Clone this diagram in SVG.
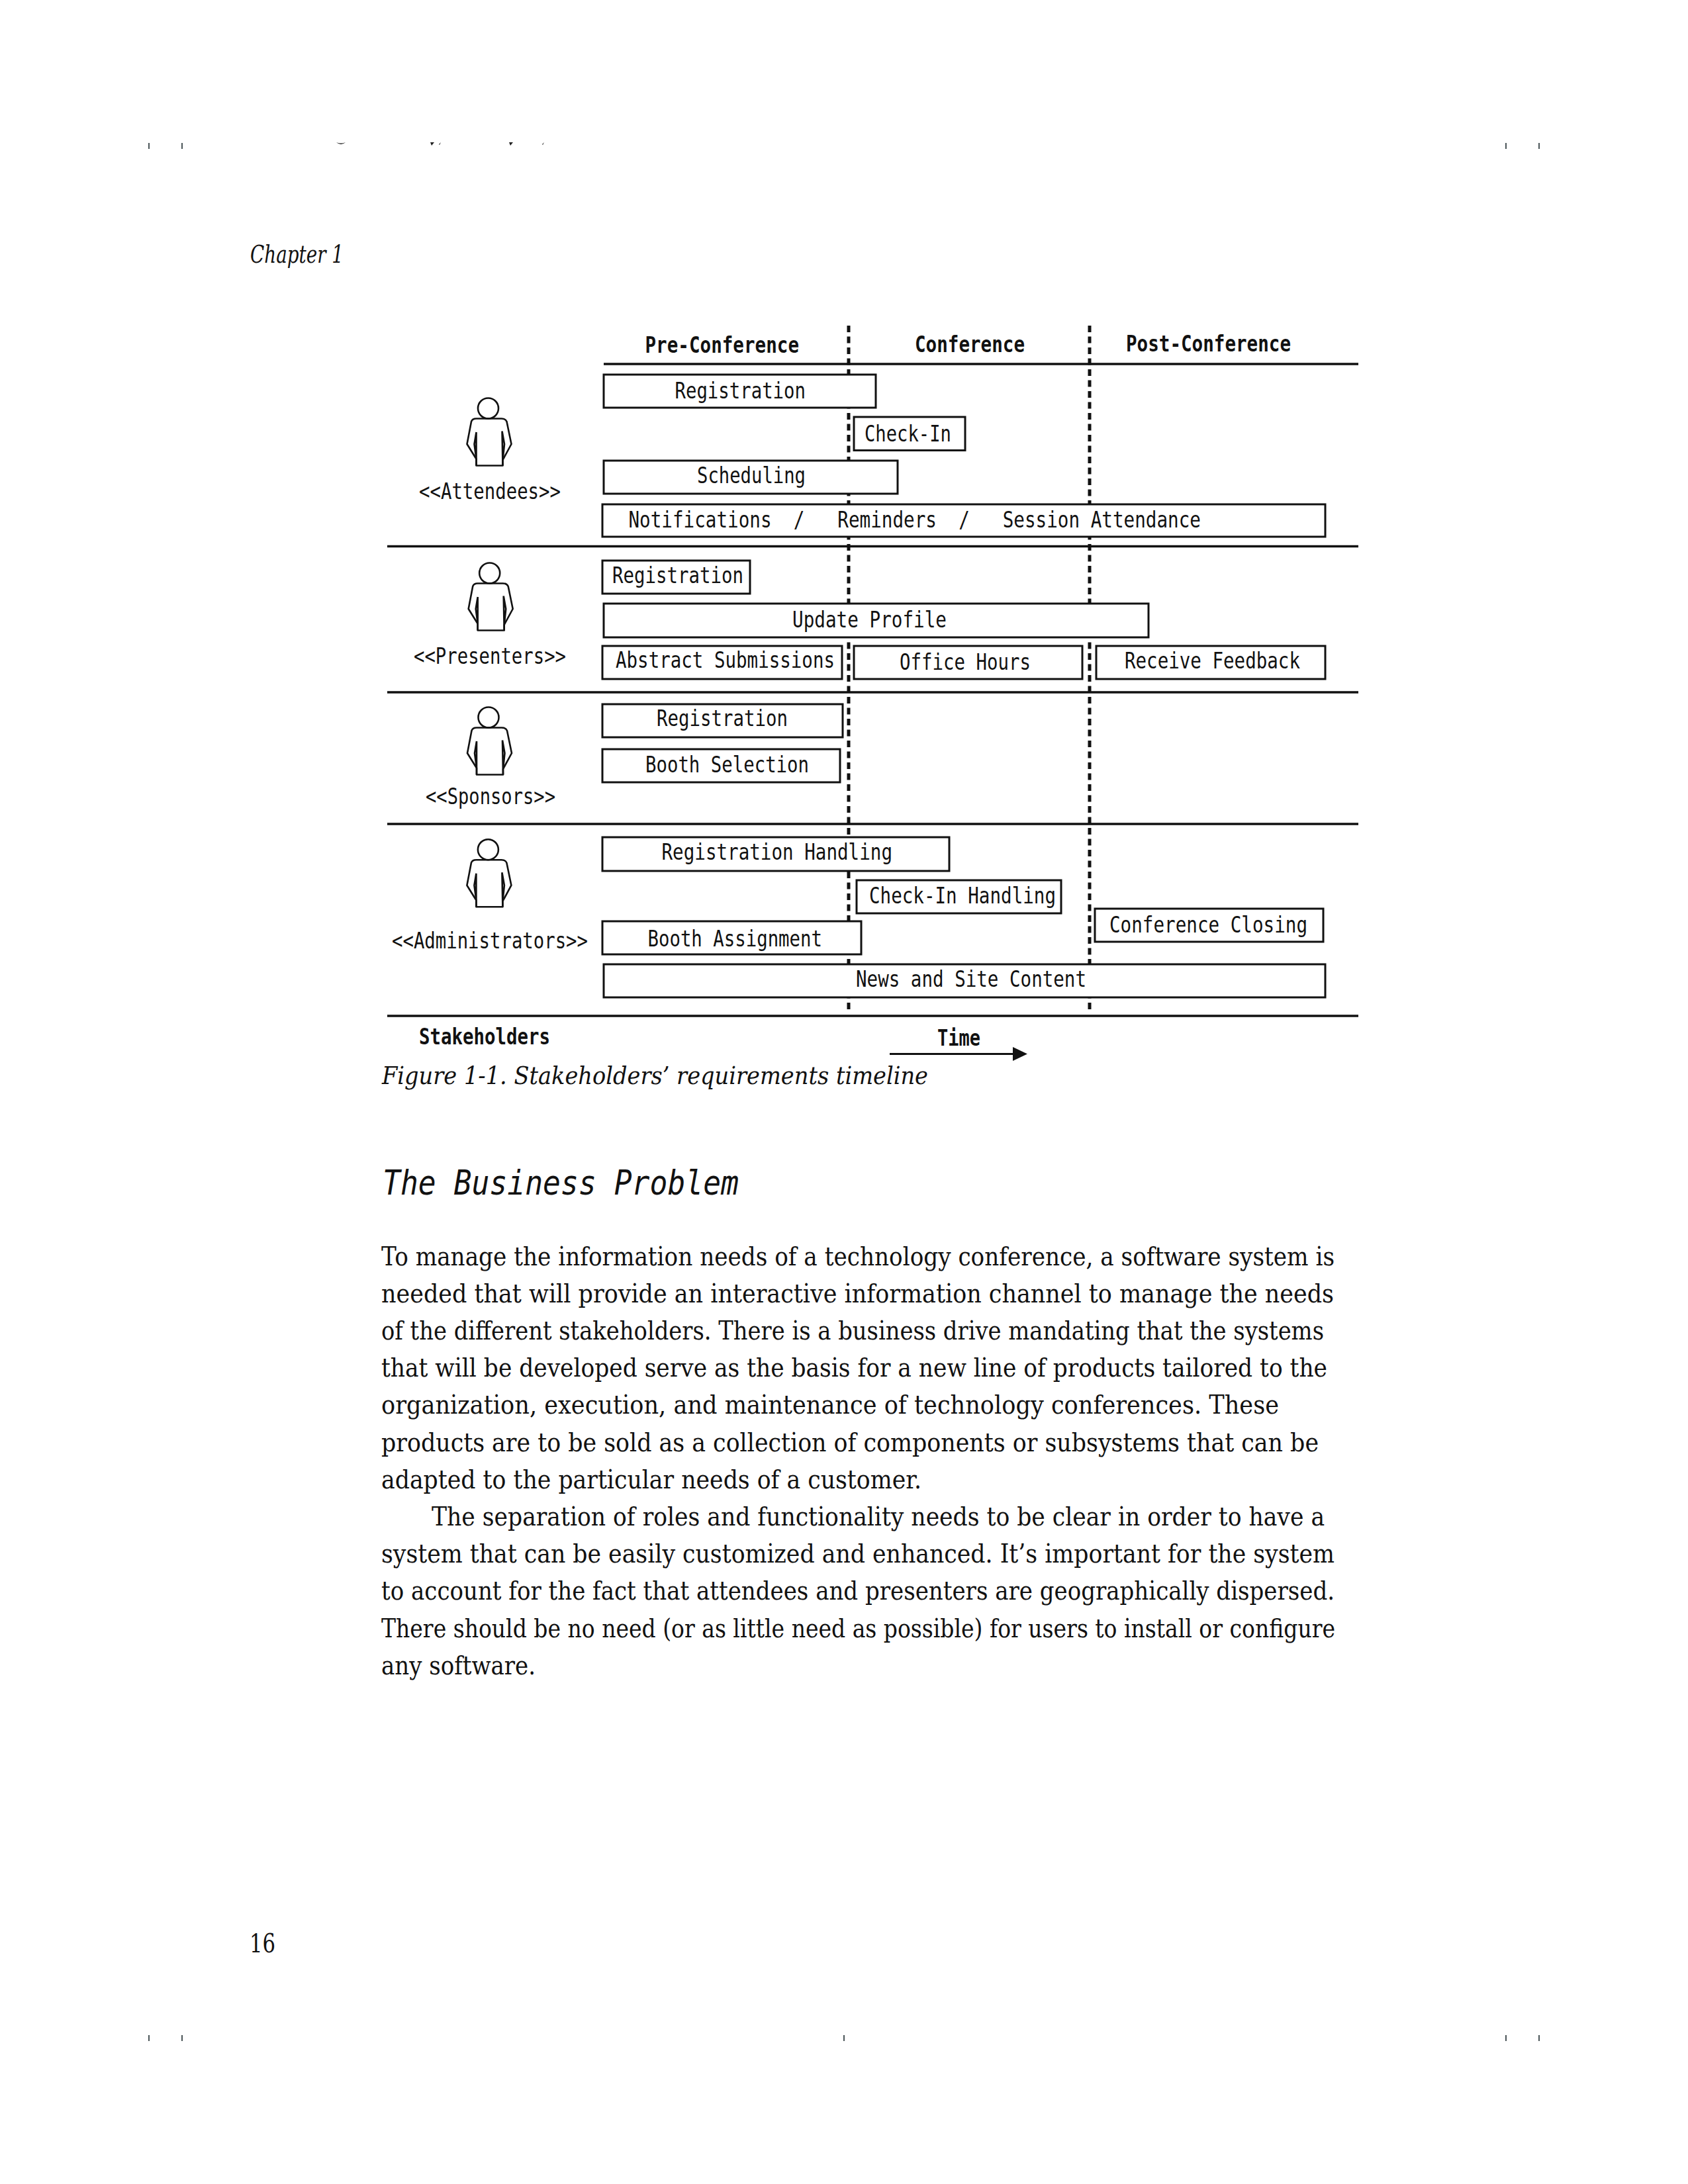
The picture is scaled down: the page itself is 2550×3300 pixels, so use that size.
<svg xmlns="http://www.w3.org/2000/svg" width="2550" height="3300" viewBox="0 0 2550 3300">
<style>
.m{font-family:"DejaVu Sans Mono","Liberation Mono",monospace;font-size:33px;fill:#111;white-space:pre}
.b{font-family:"DejaVu Sans Mono","Liberation Mono",monospace;font-size:33px;font-weight:700;fill:#111}
.h{font-family:"DejaVu Sans Mono","Liberation Mono",monospace;font-size:51px;font-style:italic;fill:#111}
.s{font-family:"DejaVu Serif","Liberation Serif",serif;font-size:40px;fill:#111}
.i{font-family:"DejaVu Serif","Liberation Serif",serif;font-size:38px;font-style:italic;fill:#111}
.box{fill:#fff;stroke:#111;stroke-width:3}
.rule{stroke:#111;stroke-width:3.5;fill:none}
.dash{stroke:#111;stroke-width:5;stroke-dasharray:10 6.500;fill:none}
.crop{stroke:#4a5558;stroke-width:2;fill:none}
.act{fill:none;stroke:#111;stroke-width:2.6;stroke-linejoin:round}
</style>
<defs>
<marker id="arrow" markerUnits="userSpaceOnUse" markerWidth="22" markerHeight="22" refX="0" refY="11" orient="auto"><path d="M0 0.5L22 11L0 21.5Z" fill="#111"/></marker>
<g id="actor" class="act">
<circle cx="0" cy="0" r="15.5"/>
<path d="M-18 86.5H22V78L35 54L28 20Q26 15.500 20 15.500H-18Q-24 15.500 -25.500 20L-32 54L-18 76.500Z"/>
<path d="M-18 36V86.500M-18 36L-21 54L-18 76.500M21 34.500L22 86.500M21 34.500L24.500 54L22 78"/>
</g>
</defs>
<rect width="2550" height="3300" fill="#fff"/>

<g id="crop-marks">
<path class="crop" d="M225 216V225M275 216V225M2275 216V225M2325 216V225M225 3075V3084M275 3075V3084M1275 3075V3084M2275 3075V3084M2325 3075V3084"/>
<path fill="#222" d="M508 215Q515 221 522 215Q515 218 508 215ZM650 215H656L652 220ZM663 218L666 215L664 219ZM769 215H775L771 220ZM819 218L822 215L820 219Z"/>
</g>
<text class="i" x="378" y="397" textLength="141" lengthAdjust="spacingAndGlyphs">Chapter 1</text>

<g id="connectors">
<path class="rule" d="M912 550H2052M585 825.500H2052M585 1046H2052M585 1245H2052M585 1535H2052"/>
<path class="dash" d="M1282 492V1529M1646 492V1529"/>
<path d="M1344 1592.500H1530" stroke="#111" stroke-width="3" fill="none" marker-end="url(#arrow)"/>
</g>

<g id="headers">
<text class="b" x="974.500" y="533" textLength="232.500" lengthAdjust="spacingAndGlyphs">Pre-Conference</text>
<text class="b" x="1382" y="532" textLength="166" lengthAdjust="spacingAndGlyphs">Conference</text>
<text class="b" x="1701" y="530.500" textLength="249" lengthAdjust="spacingAndGlyphs">Post-Conference</text>
<text class="b" x="633" y="1578" textLength="198" lengthAdjust="spacingAndGlyphs">Stakeholders</text>
<text class="b" x="1416" y="1580" textLength="65" lengthAdjust="spacingAndGlyphs">Time</text>
</g>

<g id="actor-attendees"><use href="#actor" x="737.500" y="617"/><text class="m" x="633" y="754" textLength="214" lengthAdjust="spacingAndGlyphs">&lt;&lt;Attendees&gt;&gt;</text></g>
<g id="actor-presenters"><use href="#actor" x="739.700" y="866"/><text class="m" x="625" y="1003" textLength="230" lengthAdjust="spacingAndGlyphs">&lt;&lt;Presenters&gt;&gt;</text></g>
<g id="actor-sponsors"><use href="#actor" x="738" y="1084"/><text class="m" x="643" y="1215" textLength="196" lengthAdjust="spacingAndGlyphs">&lt;&lt;Sponsors&gt;&gt;</text></g>
<g id="actor-administrators"><use href="#actor" x="737.400" y="1283.700"/><text class="m" x="592" y="1433" textLength="296" lengthAdjust="spacingAndGlyphs">&lt;&lt;Administrators&gt;&gt;</text></g>

<g id="a-registration"><rect class="box" x="912" y="566" width="411" height="50"/><text class="m" x="1019.500" y="602" textLength="197.500" lengthAdjust="spacingAndGlyphs">Registration</text></g>
<g id="a-checkin"><rect class="box" x="1290" y="630" width="168" height="50.500"/><text class="m" x="1306" y="667" textLength="131" lengthAdjust="spacingAndGlyphs">Check-In</text></g>
<g id="a-scheduling"><rect class="box" x="912" y="696" width="444" height="50"/><text class="m" x="1053" y="730" textLength="164" lengthAdjust="spacingAndGlyphs">Scheduling</text></g>
<g id="a-notifications"><rect class="box" x="910" y="762" width="1092" height="49"/><text class="m" x="949.500" y="797" textLength="864.500" lengthAdjust="spacingAndGlyphs" xml:space="preserve">Notifications  /   Reminders  /   Session Attendance</text></g>

<g id="p-registration"><rect class="box" x="910" y="847" width="223" height="50"/><text class="m" x="925" y="881" textLength="198" lengthAdjust="spacingAndGlyphs">Registration</text></g>
<g id="p-update"><rect class="box" x="912" y="912" width="823" height="51"/><text class="m" x="1197" y="948" textLength="233" lengthAdjust="spacingAndGlyphs">Update Profile</text></g>
<g id="p-abstract"><rect class="box" x="910" y="976" width="362" height="50"/><text class="m" x="930" y="1009" textLength="331" lengthAdjust="spacingAndGlyphs">Abstract Submissions</text></g>
<g id="p-office"><rect class="box" x="1290" y="976" width="345" height="50"/><text class="m" x="1359" y="1011.500" textLength="198" lengthAdjust="spacingAndGlyphs">Office Hours</text></g>
<g id="p-feedback"><rect class="box" x="1656" y="976" width="346" height="50"/><text class="m" x="1699" y="1009.500" textLength="265" lengthAdjust="spacingAndGlyphs">Receive Feedback</text></g>

<g id="s-registration"><rect class="box" x="910" y="1064" width="363" height="50"/><text class="m" x="992" y="1097" textLength="198" lengthAdjust="spacingAndGlyphs">Registration</text></g>
<g id="s-booth"><rect class="box" x="910" y="1132" width="359" height="50"/><text class="m" x="975" y="1166.500" textLength="247" lengthAdjust="spacingAndGlyphs">Booth Selection</text></g>

<g id="ad-registration"><rect class="box" x="910" y="1265" width="524" height="51"/><text class="m" x="999.500" y="1299" textLength="348.500" lengthAdjust="spacingAndGlyphs">Registration Handling</text></g>
<g id="ad-checkin"><rect class="box" x="1294" y="1330" width="309" height="50"/><text class="m" x="1313" y="1364.500" textLength="282" lengthAdjust="spacingAndGlyphs">Check-In Handling</text></g>
<g id="ad-closing"><rect class="box" x="1654" y="1373" width="345" height="50"/><text class="m" x="1676" y="1408.500" textLength="299" lengthAdjust="spacingAndGlyphs">Conference Closing</text></g>
<g id="ad-booth"><rect class="box" x="910" y="1392" width="391" height="50"/><text class="m" x="978.500" y="1430" textLength="263.500" lengthAdjust="spacingAndGlyphs">Booth Assignment</text></g>
<g id="ad-news"><rect class="box" x="912" y="1457" width="1090" height="50"/><text class="m" x="1293" y="1491" textLength="348" lengthAdjust="spacingAndGlyphs">News and Site Content</text></g>

<text class="i" x="577" y="1638" textLength="825" lengthAdjust="spacingAndGlyphs">Figure 1-1. Stakeholders’ requirements timeline</text>
<text class="h" x="578" y="1805" textLength="538" lengthAdjust="spacingAndGlyphs">The Business Problem</text>

<g id="body">
<text class="s" x="576" y="1911.500" textLength="1440" lengthAdjust="spacingAndGlyphs">To manage the information needs of a technology conference, a software system is</text>
<text class="s" x="576" y="1967.700" textLength="1439" lengthAdjust="spacingAndGlyphs">needed that will provide an interactive information channel to manage the needs</text>
<text class="s" x="576" y="2023.900" textLength="1424" lengthAdjust="spacingAndGlyphs">of the different stakeholders. There is a business drive mandating that the systems</text>
<text class="s" x="576" y="2080.100" textLength="1429" lengthAdjust="spacingAndGlyphs">that will be developed serve as the basis for a new line of products tailored to the</text>
<text class="s" x="576" y="2136.300" textLength="1356" lengthAdjust="spacingAndGlyphs">organization, execution, and maintenance of technology conferences. These</text>
<text class="s" x="576" y="2192.500" textLength="1416" lengthAdjust="spacingAndGlyphs">products are to be sold as a collection of components or subsystems that can be</text>
<text class="s" x="576" y="2248.700" textLength="816" lengthAdjust="spacingAndGlyphs">adapted to the particular needs of a customer.</text>
<text class="s" x="652" y="2304.900" textLength="1349" lengthAdjust="spacingAndGlyphs">The separation of roles and functionality needs to be clear in order to have a</text>
<text class="s" x="576" y="2361.100" textLength="1440" lengthAdjust="spacingAndGlyphs">system that can be easily customized and enhanced. It’s important for the system</text>
<text class="s" x="576" y="2417.300" textLength="1440" lengthAdjust="spacingAndGlyphs">to account for the fact that attendees and presenters are geographically dispersed.</text>
<text class="s" x="576" y="2473.500" textLength="1441" lengthAdjust="spacingAndGlyphs">There should be no need (or as little need as possible) for users to install or configure</text>
<text class="s" x="576" y="2529.700" textLength="233" lengthAdjust="spacingAndGlyphs">any software.</text>
</g>
<text class="s" x="377" y="2950" textLength="39" lengthAdjust="spacingAndGlyphs">16</text>
</svg>
